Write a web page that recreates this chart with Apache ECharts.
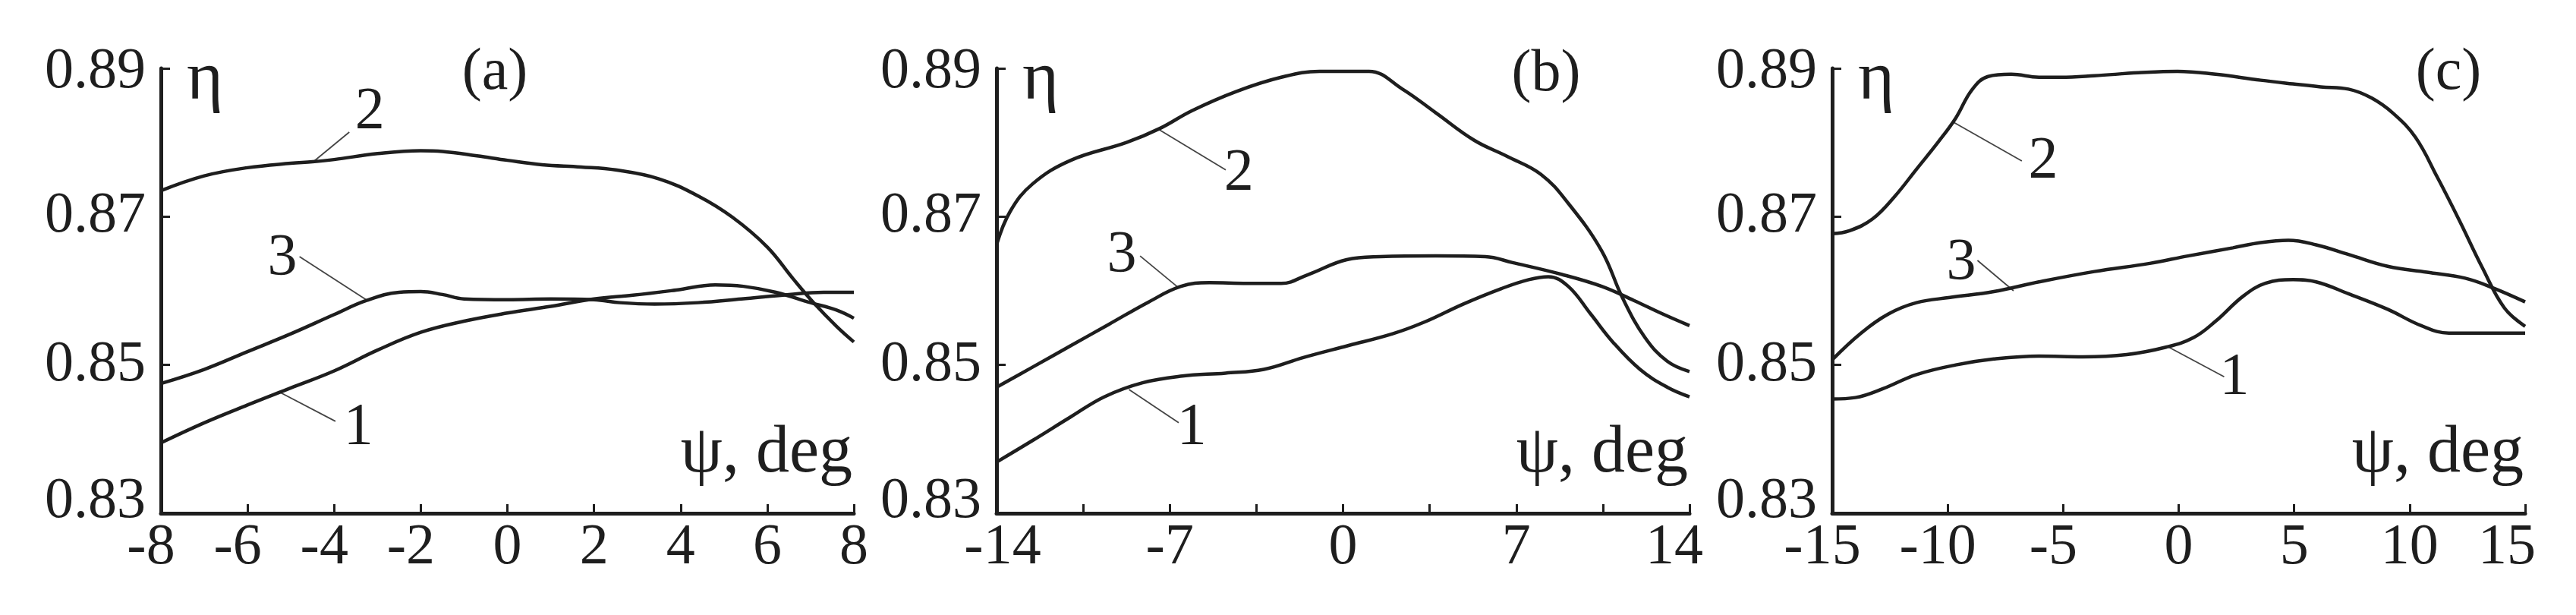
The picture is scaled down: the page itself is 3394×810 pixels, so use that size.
<!DOCTYPE html>
<html>
<head>
<meta charset="utf-8">
<script src="https://cdn.jsdelivr.net/npm/echarts@6/dist/echarts.min.js"></script>
<style>
  html, body { margin: 0; padding: 0; background: #ffffff; }
  #chart { width: 3394px; height: 810px; }
</style>
</head>
<body>
<div id="chart"></div>
<script>
// ---------------- DATA ----------------
const panelNames = ['(a)', '(b)', '(c)'];
const curveNames = ['1', '2', '3'];
const yTicks = [0.83, 0.85, 0.87, 0.89];
const xTicksA = [-8, -6, -4, -2, 0, 2, 4, 6, 8];
const xTicksB = [-14, -7, 0, 7, 14];
const xTicksC = [-15, -10, -5, 0, 5, 10, 15];
const xAxisTitle = 'ψ, deg';
const yAxisTitle = 'η';

// panel (a)
const a1 = [[-8,0.8395],[-7,0.8422],[-6,0.8446],[-5,0.8469],[-4,0.8492],[-3,0.8520],[-2,0.8544],[-1,0.8559],[0,0.8570],[1,0.8579],[2,0.8589],[2.9,0.8594],[3.9,0.8601],[4.8,0.8608],[5.45,0.8606],[6.2,0.8598],[7,0.8584],[7.6,0.8574],[8,0.8563]];
const a2 = [[-8,0.8735],[-7,0.8755],[-6,0.8766],[-5,0.8772],[-4.5,0.8774],[-4,0.8777],[-3,0.8785],[-2,0.8789],[-1.5,0.8788],[-0.7,0.8782],[0,0.8776],[0.8,0.8770],[1.7,0.8767],[2.5,0.8763],[3.5,0.8751],[4.4,0.8728],[5.2,0.8699],[6,0.8659],[6.6,0.8616],[7.1,0.8582],[7.6,0.8552],[8,0.8531]];
const a3 = [[-8,0.8475],[-7,0.8494],[-6,0.8518],[-5,0.8542],[-4,0.8568],[-3.25,0.8587],[-2.5,0.8598],[-2,0.8599],[-1.5,0.8595],[-1,0.8589],[0,0.8588],[1,0.8589],[2,0.8588],[2.6,0.8584],[3.4,0.8582],[4.4,0.8584],[5.4,0.8589],[6.5,0.8595],[7.3,0.8598],[8,0.8598]];
const leadA = [[[-5.25,0.8463],[-3.97,0.8424]], [[-4.48,0.8774],[-3.65,0.8814]], [[-3.26,0.8588],[-4.8,0.8646]]];
const tagA = [[-3.42,0.8414],[-3.16,0.8840],[-5.18,0.8642]];

// panel (b)
const b1 = [[-14,0.8369],[-12.55,0.8398],[-11,0.8430],[-9.65,0.8457],[-8.1,0.8476],[-6.5,0.8485],[-4.75,0.8489],[-3.2,0.8494],[-1.6,0.8510],[0.2,0.8526],[2,0.8542],[3.3,0.8558],[4.85,0.8582],[6.4,0.8603],[7.5,0.8615],[8.3,0.8619],[9.1,0.8606],[10,0.8569],[10.9,0.8531],[12,0.8494],[13.1,0.8470],[14,0.8457]];
const b2 = [[-14,0.8662],[-13.45,0.8707],[-12.55,0.8744],[-11,0.8776],[-8.75,0.8800],[-7.4,0.8819],[-6.1,0.8843],[-4.3,0.8869],[-2.5,0.8888],[-0.95,0.8896],[1.05,0.8896],[2.4,0.8872],[3.75,0.8840],[5.3,0.8803],[6.65,0.8781],[8,0.8757],[9.1,0.8718],[10.45,0.8654],[11.3,0.8590],[12.2,0.8537],[13.1,0.8505],[14,0.8491]];
const b3 = [[-14,0.8470],[-12.55,0.8497],[-11,0.8526],[-9.45,0.8555],[-7.85,0.8585],[-6.55,0.8606],[-5.4,0.8611],[-3.85,0.8610],[-2.5,0.8610],[-1.4,0.8622],[0.15,0.8642],[1.5,0.8646],[3.75,0.8647],[5.75,0.8646],[6.85,0.8638],[8.85,0.8622],[10.45,0.8606],[11.75,0.8587],[12.9,0.8569],[14,0.8553]];
const leadB = [[[-8.65,0.8467],[-6.64,0.8422]], [[-7.42,0.8817],[-4.74,0.8763]], [[-6.64,0.8604],[-8.2,0.8647]]];
const tagB = [[-6.08,0.8414],[-4.18,0.8757],[-8.91,0.8647]];

// panel (c)
const c1 = [[-15,0.8454],[-14,0.8456],[-12.8,0.8468],[-11.35,0.8487],[-9.65,0.8500],[-8,0.8508],[-6.05,0.8512],[-4.15,0.8511],[-2.25,0.8514],[-0.55,0.8524],[0.65,0.8537],[1.6,0.8559],[2.8,0.8593],[3.75,0.8610],[4.95,0.8615],[5.95,0.8612],[7.35,0.8596],[9.05,0.8575],[10.5,0.8553],[11.7,0.8543],[13.1,0.8543],[15,0.8543]];
const c2 = [[-15,0.8677],[-14.25,0.8681],[-13.25,0.8697],[-12.3,0.8727],[-11.35,0.8764],[-10.4,0.8801],[-9.65,0.8833],[-8.95,0.8871],[-8.25,0.8889],[-7.25,0.8892],[-6.05,0.8888],[-5.1,0.8888],[-3.65,0.8890],[-1.75,0.8894],[-0.05,0.8896],[1.6,0.8892],[3.55,0.8884],[4.95,0.8879],[6.15,0.8875],[7.35,0.8872],[8.35,0.8860],[9.3,0.8839],[10.25,0.8807],[11.2,0.8753],[12.15,0.8695],[13.15,0.8631],[14.1,0.8577],[15,0.8552]];
const c3 = [[-15,0.8507],[-13.75,0.8543],[-12.55,0.8569],[-11.35,0.8584],[-9.9,0.8591],[-8,0.8599],[-6.05,0.8612],[-3.65,0.8626],[-1.25,0.8637],[0.4,0.8647],[2.35,0.8658],[3.55,0.8665],[4.75,0.8668],[5.95,0.8662],[7.35,0.8649],[9.05,0.8633],[10.75,0.8625],[12.4,0.8617],[13.6,0.8604],[15,0.8585]];
const leadC = [[[-0.43,0.8524],[1.97,0.8484]], [[-9.79,0.8828],[-6.79,0.8775]], [[-7.15,0.8600],[-8.71,0.8641]]];
const tagC = [[2.45,0.8482],[-5.83,0.8774],[-9.38,0.8636]];

// ---------------- STYLE / LAYOUT ----------------
const FONT = 'Liberation Serif';
const INK = '#1e1e1e';
const TICK_FS = 76;
const gridLefts = [212, 1313, 2414];
const GRID_TOP = 90, GRID_W = 913, GRID_H = 586;

const panels = [
  { curves: [a1, a2, a3], lead: leadA, tag: tagA, ticks: xTicksA, minor: 0, shift: { neg: -13 }, titleX: 652, titleY: 97 },
  { curves: [b1, b2, b3], lead: leadB, tag: tagB, ticks: xTicksB, minor: 2, shift: { '-14': 8, '14': -20 }, titleX: 2037, titleY: 99 },
  { curves: [c1, c2, c3], lead: leadC, tag: tagC, ticks: xTicksC, minor: 0, shift: { neg: -13, '15': -24 }, titleX: 3226, titleY: 97 }
];

function makeRich() {
  const r = { t: { fontFamily: FONT, fontSize: TICK_FS, color: INK } };
  for (let w = 2; w <= 60; w += 2) r['g' + w] = { width: w, fontFamily: FONT, fontSize: TICK_FS };
  return r;
}

function xFormatter(shift) {
  return function (v) {
    const s = String(Math.round(v * 100) / 100);
    let sh = shift[s];
    if (sh === undefined) sh = (v < 0 && shift.neg) ? shift.neg : 0;
    const w = Math.round(Math.abs(sh)) * 2;
    if (sh < 0) return '{t|' + s + '}{g' + w + '| }';
    if (sh > 0) return '{g' + w + '| }{t|' + s + '}';
    return '{t|' + s + '}';
  };
}

function yFormatter(v) {
  const s = v.toFixed(2);
  if (s === yTicks[0].toFixed(2)) return '{lo|' + s + '}';
  if (s === yTicks[yTicks.length - 1].toFixed(2)) return '{hi|' + s + '}';
  return '{t|' + s + '}';
}

const grid = [], xAxis = [], yAxis = [], series = [], graphic = [];
panels.forEach((p, i) => {
  grid.push({ left: gridLefts[i], top: GRID_TOP, width: GRID_W, height: GRID_H, containLabel: false });
  const tk = p.ticks;
  const xa = {
    type: 'value', gridIndex: i, min: tk[0], max: tk[tk.length - 1], interval: tk[1] - tk[0],
    axisLine: { show: true, onZero: false, lineStyle: { color: INK, width: 5 } },
    axisTick: { show: true, inside: true, length: 12, lineStyle: { color: INK, width: 3 } },
    splitLine: { show: false },
    axisLabel: { margin: 8, fontFamily: FONT, fontSize: TICK_FS, color: INK, formatter: xFormatter(p.shift), rich: makeRich() },
    name: xAxisTitle, nameLocation: 'end', nameGap: -2,
    nameTextStyle: { fontFamily: FONT, fontSize: 88, color: INK, align: 'right', verticalAlign: 'bottom', padding: [0, 0, 34, 0] }
  };
  if (p.minor) xa.minorTick = { show: true, splitNumber: p.minor, length: 12, lineStyle: { color: INK, width: 3 } };
  xAxis.push(xa);
  const yr = makeRich();
  yr.lo = { fontFamily: FONT, fontSize: TICK_FS, color: INK, padding: [0, 0, 30, 0] };
  yr.hi = { fontFamily: FONT, fontSize: TICK_FS, color: INK, padding: [10, 0, 0, 0] };
  yAxis.push({
    type: 'value', gridIndex: i, min: yTicks[0], max: yTicks[yTicks.length - 1], interval: yTicks[1] - yTicks[0],
    axisLine: { show: true, onZero: false, lineStyle: { color: INK, width: 5 } },
    axisTick: { show: true, inside: true, length: 12, lineStyle: { color: INK, width: 3 } },
    splitLine: { show: false },
    axisLabel: { margin: 20, fontFamily: FONT, fontSize: TICK_FS, color: INK, formatter: yFormatter, rich: yr },
    name: yAxisTitle, nameLocation: 'end', nameGap: 30,
    nameTextStyle: { fontFamily: FONT, fontSize: 92, color: INK, align: 'left', verticalAlign: 'top', padding: [0, 0, 0, 34] }
  });
  p.curves.forEach((d, k) => {
    series.push({
      type: 'line', name: curveNames[k], xAxisIndex: i, yAxisIndex: i, data: d,
      smooth: 0.4, symbol: 'none', showSymbol: false,
      lineStyle: { color: INK, width: 4.5 }, z: 3, silent: true
    });
  });
  p.lead.forEach((d) => {
    series.push({
      type: 'line', xAxisIndex: i, yAxisIndex: i, data: d, symbol: 'none', showSymbol: false,
      lineStyle: { color: '#444', width: 1.8 }, z: 2, silent: true
    });
  });
  series.push({
    type: 'scatter', xAxisIndex: i, yAxisIndex: i, symbolSize: 2, silent: true,
    itemStyle: { color: 'rgba(0,0,0,0)' },
    data: p.tag.map((c, k) => ({ value: c, name: curveNames[k] })),
    label: {
      show: true, position: [0, 0], align: 'center', verticalAlign: 'middle', formatter: '{b}',
      fontFamily: FONT, fontSize: 78, color: INK, opacity: 1, textBorderWidth: 0
    },
    z: 4
  });
  graphic.push({
    type: 'text', x: p.titleX, y: p.titleY,
    style: { text: panelNames[i], font: '78px "' + FONT + '"', fill: INK, textAlign: 'center', textVerticalAlign: 'middle' }
  });
});

const chart = echarts.init(document.getElementById('chart'), null, { renderer: 'canvas' });
chart.setOption({
  animation: false,
  backgroundColor: '#ffffff',
  grid, xAxis, yAxis, series, graphic
});
</script>
</body>
</html>
